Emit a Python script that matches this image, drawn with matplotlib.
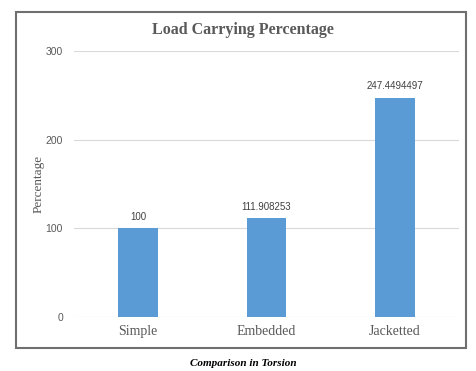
import matplotlib.pyplot as plt
from matplotlib.patches import Rectangle

categories = ['Simple', 'Embedded', 'Jacketted']
load_pct = [100, 111.908253, 247.4494497]
value_labels = ['100', '111.908253', '247.4494497']
yticks = [0, 100, 200, 300]

fig = plt.figure(figsize=(4.76, 3.71), dpi=100)
ax = fig.add_axes([0.1555, 0.1456, 0.8085, 0.7169])

bars = ax.bar(range(len(categories)), load_pct, width=0.31, color='#5b9bd5', zorder=3)
for b, txt in zip(bars, value_labels):
    ax.text(b.get_x() + b.get_width() / 2, b.get_height() + 7, txt,
            ha='center', va='bottom', fontsize=7, color='#404040',
            family='Liberation Sans')

ax.set_xlim(-0.5, 2.5)
ax.set_ylim(0, 300)
ax.set_yticks(yticks)
ax.set_xticks(range(len(categories)))
ax.set_xticklabels(categories, family='Liberation Serif', fontsize=10, color='#595959')
for lab in ax.get_yticklabels():
    lab.set_family('Liberation Sans')
    lab.set_fontsize(7.5)
    lab.set_color('#595959')
ax.tick_params(axis='both', length=0)
ax.tick_params(axis='y', pad=8)
ax.tick_params(axis='x', pad=6)
ax.grid(axis='y', color='#d9d9d9', linewidth=0.8, zorder=0)
for s in ax.spines.values():
    s.set_visible(False)

ax.set_ylabel('Percentage', family='Liberation Serif', fontsize=9.5, color='#595959')
ax.yaxis.set_label_coords(-0.077, 0.5)

fig.text(0.511, 0.918, 'Load Carrying Percentage', ha='center', va='center',
         family='Liberation Serif', fontweight='bold', fontsize=11.5, color='#595959')

# outer frame around the chart
fig.patches.append(Rectangle((16 / 476, 1 - 348 / 371), 450 / 476, 336 / 371,
                             transform=fig.transFigure, fill=False,
                             edgecolor='#6f6f6f', linewidth=1.5))

fig.text(0.511, 1 - 364 / 371, 'Comparison in Torsion', ha='center', va='center',
         family='Liberation Serif', fontweight='bold', style='italic', fontsize=8,
         color='#000000')

fig.savefig('out.png', dpi=100)
